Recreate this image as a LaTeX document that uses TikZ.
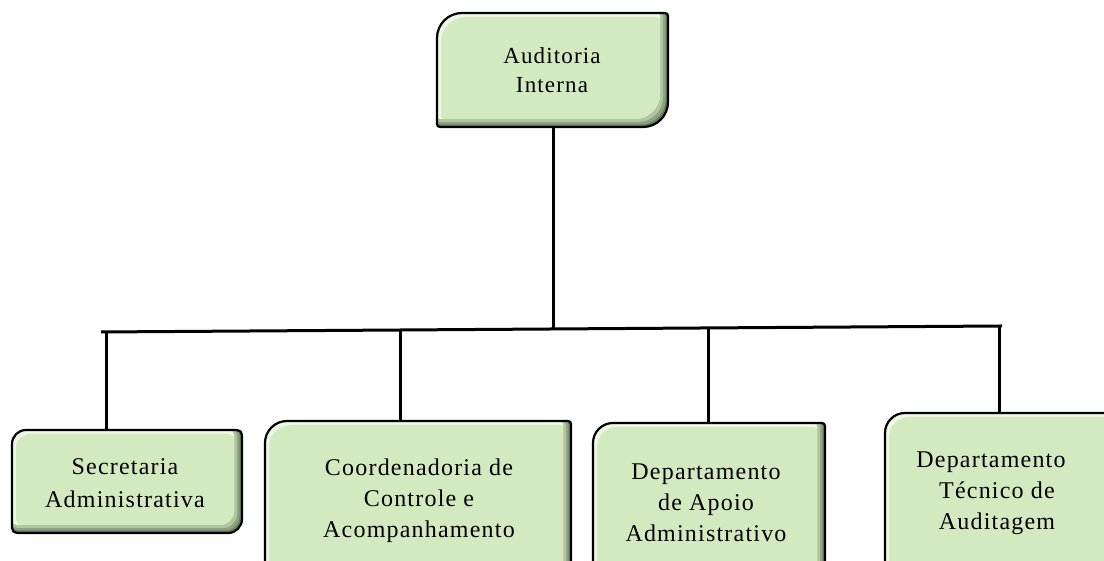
\documentclass[tikz,border=0pt]{standalone}
\usepackage{fontspec}
\setmainfont{Liberation Serif}
\definecolor{face}{RGB}{211,234,193}
\definecolor{bevdark}{RGB}{105,125,95}
\definecolor{bevmd}{RGB}{140,162,128}
\definecolor{bevmid}{RGB}{175,198,160}
\definecolor{bevlight}{RGB}{238,248,230}
\newcommand\dpath[7]{\path[#1] (#2,#5-#6) arc[start angle=180,end angle=90,radius=#6] -- (#4-#7,#5) arc[start angle=90,end angle=0,radius=#7] -- (#4,#3+#6) arc[start angle=0,end angle=-90,radius=#6] -- (#2+#7,#3) arc[start angle=270,end angle=180,radius=#7] -- cycle;}
\newcommand\bevbox[6]{%
  \dpath{fill=bevdark}{#1}{#2}{#3}{#4}{#5}{#6}%
  \dpath{fill=bevmd}{#1}{#2+2.5}{#3-2.5}{#4}{#5}{#6}%
  \dpath{fill=bevmid}{#1}{#2+5}{#3-5}{#4}{#5}{#6}%
  \dpath{fill=bevlight}{#1}{#2+8}{#3-8}{#4}{#5}{#6}%
  \dpath{fill=face}{#1+4}{#2+8}{#3-8}{#4-4}{#5}{#6}%
  \dpath{draw=black,line width=2.2}{#1}{#2}{#3}{#4}{#5}{#6}}
\tikzset{
  area/.style={inner sep=0pt, draw=none},
  lbl/.style={align=center, inner sep=0pt, text=black},
  topfont/.style={font=\addfontfeatures{LetterSpace=5}\fontsize{23}{29}\selectfont},
  botfont/.style={font=\addfontfeatures{LetterSpace=5}\fontsize{24}{31}\selectfont},
  b1font/.style={font=\addfontfeatures{LetterSpace=5}\fontsize{24}{33}\selectfont},
  conn/.style={draw=black, line width=3}
}
\begin{document}
\begin{tikzpicture}[x=1pt,y=1pt]
\useasboundingbox (0,0) rectangle (1104,561);
\clip (0,0) rectangle (1104,561);
% box shapes
\bevbox{437}{434}{668}{548}{25}{3}
\bevbox{12}{28}{242}{131}{14}{5}
\bevbox{265}{-30}{571}{140}{22}{3}
\bevbox{593}{-30}{825}{138}{20}{3}
\bevbox{885}{-30}{1115}{148}{20}{3}
% box areas (named)
\node[area, minimum width=231, minimum height=114] (top) at (552.5,491) {};
\node[area, minimum width=230, minimum height=103] (b1) at (127,79.5) {};
\node[area, minimum width=306, minimum height=170] (b2) at (418,55) {};
\node[area, minimum width=232, minimum height=168] (b3) at (709,54) {};
\node[area, minimum width=230, minimum height=178] (b4) at (1000,59) {};
% labels
\node[lbl, topfont] (ttop) at (552,491) {Auditoria\\Interna};
\node[lbl, b1font] (t1) at (125,77.5) {Secretaria\\Administrativa};
\node[lbl, botfont] (t2) at (419,60.5) {Coordenadoria de\\Controle e\\Acompanhamento};
\node[lbl, botfont] (t3) at (706,58.5) {Departamento\\de Apoio\\Administrativo};
\node[lbl, botfont] (t4) at (997,67.5) {Departamento\hspace*{12pt}\\Técnico de\\Auditagem};
% connector line
\coordinate (hl) at (101,229);
\coordinate (hr) at (1002,235);
\coordinate (j0) at (553,232);
\coordinate (j1) at (106,229);
\coordinate (j2) at (400,231);
\coordinate (j3) at (708,233);
\coordinate (j4) at (999,235);
\draw[conn] (top.south -| j0) -- (j0);
\draw[conn] (hl) -- (hr);
\draw[conn] (j1) -- (j1 |- b1.north);
\draw[conn] (j2) -- (j2 |- b2.north);
\draw[conn] (j3) -- (j3 |- b3.north);
\draw[conn] (j4) -- (j4 |- b4.north);
\end{tikzpicture}
\end{document}
